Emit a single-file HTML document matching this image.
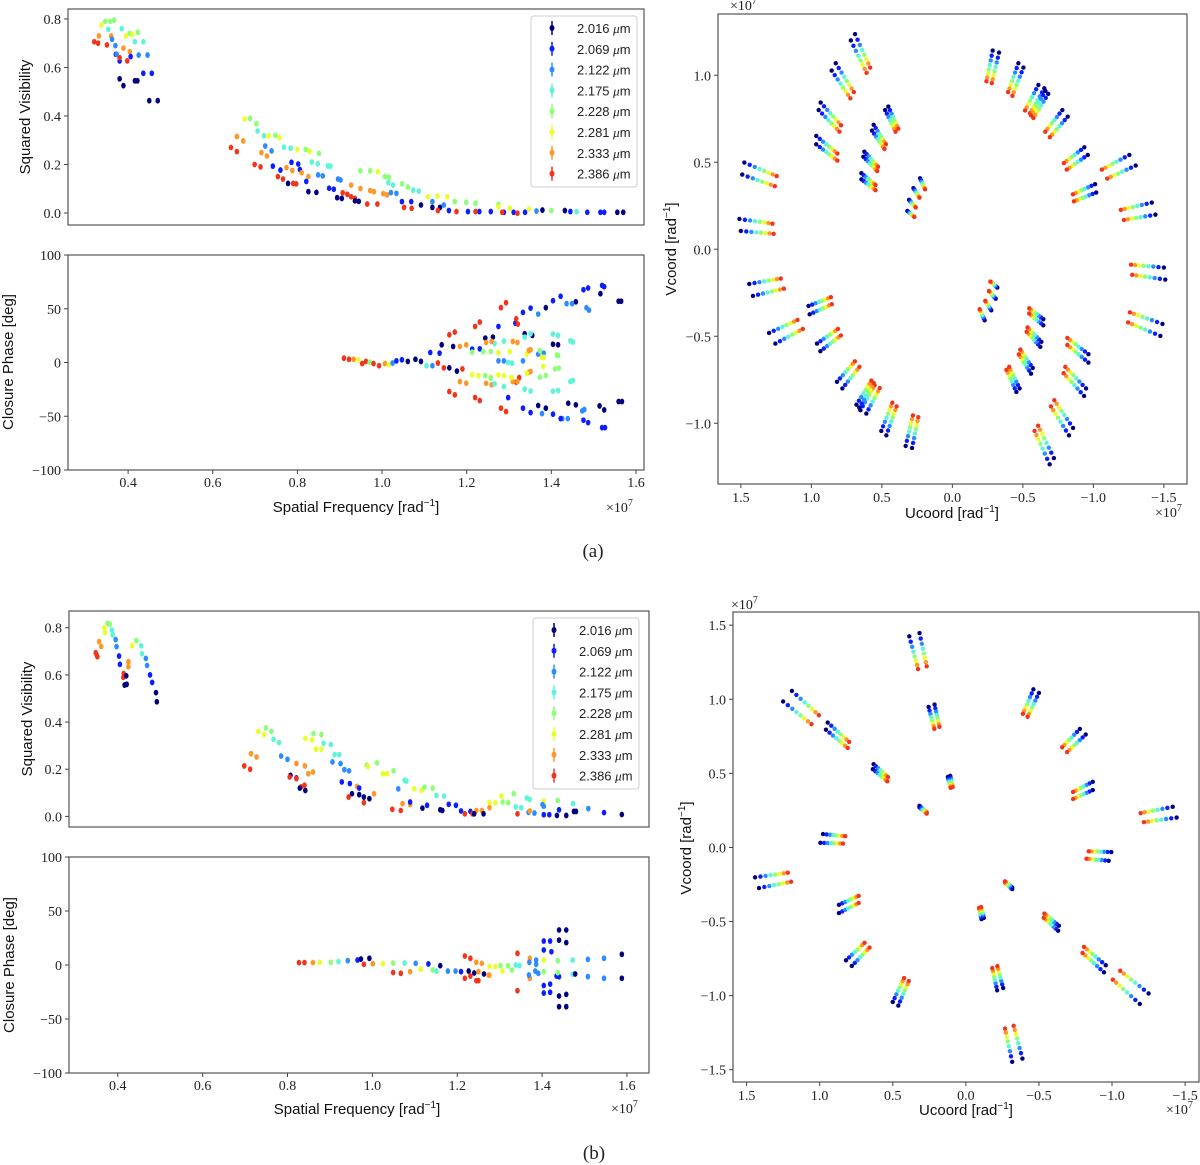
<!DOCTYPE html>
<html><head><meta charset="utf-8"><style>
html,body{margin:0;padding:0;background:#fff;}
svg{display:block;}
.tk{font-family:"Liberation Serif",serif;font-size:14px;fill:#222;}
.lb{font-family:"Liberation Sans",sans-serif;font-size:15px;fill:#111;}
.lg{font-family:"Liberation Sans",sans-serif;font-size:13px;fill:#222;}
</style></head><body>
<svg id="fig" width="1200" height="1165" viewBox="0 0 1200 1165" xmlns="http://www.w3.org/2000/svg"></svg>
<script>
const LAMBDAS = [2.016,2.069,2.122,2.175,2.228,2.281,2.333,2.386];
const LAMBDA_LABELS = ["2.016","2.069","2.122","2.175","2.228","2.281","2.333","2.386"];
const COLORS = ["#00007f","#0a1eff","#2a8cff","#5cf5d8","#8cff78","#eaff2a","#ff9628","#f4341a"];
const SF_TICKS = [0.4,0.6,0.8,1.0,1.2,1.4,1.6];
const VIS_TICKS = [0.0,0.2,0.4,0.6,0.8];
const CP_TICKS = [-100,-50,0,50,100];
const UV_TICKS_A = [1.5,1.0,0.5,0.0,-0.5,-1.0];
const UV_TICKS_B = [1.5,1.0,0.5,0.0,-0.5,-1.0,-1.5];
// visibility (a): [freq, V2, wavelength index]
const visA = [
[0.32,0.706,7],[0.329,0.70,7],[0.331,0.73,6],[0.337,0.775,5],[0.346,0.79,4],[0.353,0.757,3],[0.35,0.693,7],[0.36,0.73,6],
[0.362,0.716,2],[0.37,0.69,2],[0.371,0.654,1],[0.373,0.654,2],[0.38,0.553,0],[0.389,0.525,0],[0.38,0.627,1],[0.38,0.64,7],[0.398,0.627,7],
[0.389,0.68,6],[0.404,0.665,6],[0.358,0.79,4],[0.367,0.795,4],[0.385,0.76,3],[0.395,0.73,5],[0.404,0.74,4],[0.423,0.745,4],[0.41,0.737,5],
[0.416,0.706,3],[0.436,0.706,3],[0.425,0.651,2],[0.446,0.651,2],[0.406,0.645,1],[0.436,0.576,1],[0.456,0.576,1],[0.416,0.545,0],[0.422,0.545,0],
[0.45,0.463,0],[0.47,0.463,0],
[0.643,0.27,7],[0.657,0.253,7],[0.657,0.315,6],[0.672,0.297,6],[0.675,0.388,5],[0.688,0.39,4],[0.703,0.368,4],[0.706,0.338,3],[0.721,0.318,3],
[0.732,0.318,5],[0.748,0.32,4],[0.758,0.31,5],[0.724,0.276,2],[0.739,0.256,2],[0.715,0.249,6],[0.728,0.235,6],[0.699,0.2,7],[0.713,0.19,7],
[0.742,0.193,1],[0.76,0.177,1],[0.754,0.15,7],[0.766,0.14,7],[0.778,0.122,0],[0.784,0.267,3],[0.768,0.271,3],[0.8,0.262,5],[0.82,0.262,4],[0.829,0.255,5],
[0.774,0.187,6],[0.788,0.175,6],[0.786,0.209,1],[0.802,0.202,1],[0.79,0.122,7],[0.797,0.12,7],[0.806,0.179,1],[0.821,0.13,1],[0.834,0.21,3],[0.848,0.203,3],
[0.851,0.246,4],[0.81,0.166,6],[0.826,0.15,6],[0.826,0.088,0],[0.845,0.085,0],[0.849,0.157,2],[0.86,0.153,2],[0.872,0.194,3],[0.878,0.193,3],
[0.875,0.102,1],[0.886,0.098,1],[0.896,0.14,2],[0.902,0.136,2],[0.894,0.063,0],[0.905,0.06,0],[0.907,0.083,7],[0.918,0.077,7],[0.927,0.067,7],[0.936,0.06,7],
[0.936,0.05,0],[0.945,0.048,0],[0.927,0.115,6],[0.949,0.101,6],[0.972,0.092,6],[0.981,0.088,6],[0.965,0.037,7],[0.989,0.037,7],
[0.949,0.174,4],[0.972,0.174,4],[0.99,0.17,5],[1.007,0.15,4],[1.016,0.147,4],[1.003,0.08,6],[1.012,0.075,6],[1.021,0.084,2],[1.034,0.081,2],
[1.015,0.125,3],[1.026,0.115,3],[1.047,0.12,4],[1.061,0.107,4],[1.047,0.047,1],[1.069,0.047,1],[1.052,0.023,7],[1.07,0.019,7],[1.074,0.094,3],[1.087,0.09,3],
[1.109,0.067,5],[1.131,0.07,5],[1.154,0.067,5],[1.092,0.033,0],[1.119,0.023,0],[1.137,0.023,0],[1.119,0.047,2],[1.146,0.033,2],
[1.172,0.047,4],[1.199,0.044,4],[1.221,0.04,4],[1.275,0.036,4],[1.158,0.01,1],[1.203,0.006,1],[1.23,0.006,1],[1.257,0.006,1],[1.288,0.003,1],[1.311,0.003,1],[1.338,0.003,1],
[1.132,0.01,7],[1.176,0.006,7],[1.221,0.006,7],[1.284,0.003,7],[1.32,-0.001,7],[1.275,0.026,5],[1.302,0.019,5],[1.347,0.016,5],
[1.365,0.008,2],[1.379,0.012,0],[1.432,0.01,0],[1.445,0.006,1],[1.485,0.003,1],[1.516,0.003,1],[1.525,0.003,1],[1.556,0.003,0],[1.57,0.003,0],[1.4,0.01,4],[1.46,0.005,3]
];
// closure phase (a): [freq, deg, wavelength index]
const cpA = [
[0.91,4,7],[0.922,3,7],[0.933,3,6],[0.944,2.5,5],[0.953,-1,7],[0.962,1,7],[0.971,0.3,4],[0.98,-1,7],[0.993,-3,7],[1.007,-1,6],[1.016,-2,5],[1.025,-0.5,2],
[1.034,1.5,1],[1.047,2.5,1],[1.061,1,0],[1.079,3,0],[1.092,1,0],[1.105,-3,3],[1.119,-3,2],[1.132,-0.5,7],[1.146,-5,7],[1.159,-5,0],[1.177,-8,0],[1.19,-6,7],
[1.114,9.3,1],[1.136,8.7,1],[1.213,12.4,1],[1.231,12.7,1],[1.275,33.5,1],[1.315,36.6,1],[1.333,46.6,1],[1.351,50.6,1],[1.404,57.5,1],[1.422,61.6,1],[1.476,67.7,1],[1.487,69.3,1],[1.52,71.7,1],[1.525,70.5,1],
[1.141,16.5,0],[1.168,14.9,0],[1.244,22.7,0],[1.262,23.6,0],[1.337,26.7,0],[1.355,25.2,0],[1.387,51,0],[1.404,17,0],[1.416,16.5,0],[1.458,56.5,0],[1.516,64,0],[1.559,57,0],[1.565,57,0],
[1.369,45,2],[1.436,54.7,2],[1.449,54.7,2],[1.483,50.9,2],[1.489,48.7,2],[1.275,1.5,2],[1.288,1.5,2],[1.333,1.5,2],[1.369,7.8,2],[1.382,8.7,2],
[1.266,17.7,3],[1.288,19.9,3],[1.337,23.6,3],[1.351,26.7,3],[1.404,26.4,3],[1.416,25.2,3],[1.445,20.2,3],[1.451,19,3],[1.298,0,3],[1.307,-0.6,3],
[1.213,9.6,4],[1.239,10.2,4],[1.257,10.2,4],[1.347,10.9,4],[1.373,10.9,4],[1.413,7.1,4],[1.416,6.5,4],
[1.275,9.3,5],[1.302,10.2,5],[1.342,8.1,5],[1.378,4.7,5],[1.382,4.7,5],
[1.184,14.9,6],[1.199,16.5,6],[1.246,18.6,6],[1.259,19.6,6],[1.309,19.6,6],[1.32,18.6,6],[1.347,11.2,6],[1.351,11.8,6],
[1.159,25.8,7],[1.172,28.3,7],[1.22,33.5,7],[1.231,37.6,7],[1.281,51,7],[1.293,55.6,7],[1.317,40.7,7],[1.321,35.7,7],
[1.159,-27,7],[1.172,-30.1,7],[1.22,-32.6,7],[1.231,-35.4,7],[1.281,-42.5,7],[1.293,-45.6,7],[1.317,-18.3,7],[1.324,-14,7],
[1.184,-17.7,6],[1.199,-19.3,6],[1.246,-19.3,6],[1.259,-20.8,6],[1.309,-17.7,6],[1.32,-17.7,6],[1.347,-9,6],[1.351,-8.4,6],
[1.213,-11.5,5],[1.228,-12.4,5],[1.257,-13.7,5],[1.275,-11.5,5],[1.288,-12.1,5],[1.306,-14,5],[1.342,-9.9,5],[1.381,-3.7,5],
[1.244,-12.4,4],[1.257,-14.6,4],[1.373,-13.7,4],[1.387,-12.1,4],[1.409,-5.9,4],[1.418,-5.3,4],
[1.266,-19.9,3],[1.288,-22.4,3],[1.337,-24.8,3],[1.351,-26.7,3],[1.404,-26.7,3],[1.416,-26.1,3],[1.445,-17.7,3],[1.451,-16.8,3],
[1.378,-47.5,2],[1.426,-52.2,2],[1.439,-52.2,2],[1.473,-45,2],[1.478,-43.8,2],
[1.298,-32.6,1],[1.333,-42.5,1],[1.351,-46.6,1],[1.404,-48.1,1],[1.422,-52.2,1],[1.476,-53.7,1],[1.487,-55.9,1],[1.52,-60.6,1],[1.527,-60.6,1],
[1.369,-40,0],[1.387,-42.5,0],[1.44,-37.9,0],[1.458,-39.4,0],[1.514,-40.4,0],[1.525,-44.1,0],[1.559,-36.3,0],[1.567,-36.3,0]
];
// visibility (b)
const visB = [
[0.348,0.694,7],[0.352,0.677,7],[0.35,0.685,7],[0.356,0.741,6],[0.361,0.72,6],[0.368,0.80,5],[0.37,0.78,5],[0.376,0.819,4],[0.381,0.815,4],
[0.386,0.79,3],[0.388,0.77,3],[0.395,0.75,2],[0.397,0.72,2],[0.403,0.68,1],[0.405,0.645,1],[0.414,0.606,7],[0.413,0.59,7],[0.425,0.656,6],[0.425,0.635,6],
[0.416,0.557,0],[0.421,0.56,0],[0.42,0.596,0],[0.434,0.724,5],[0.444,0.745,4],[0.455,0.724,3],[0.457,0.69,3],[0.466,0.67,2],[0.469,0.64,2],
[0.476,0.6,1],[0.481,0.568,1],[0.49,0.525,0],[0.492,0.486,0],
[0.698,0.214,7],[0.712,0.2,7],[0.714,0.266,6],[0.727,0.252,6],[0.731,0.361,5],[0.745,0.347,5],[0.749,0.375,4],[0.762,0.361,4],[0.767,0.327,3],[0.78,0.313,3],
[0.785,0.256,2],[0.8,0.242,2],[0.807,0.174,0],[0.821,0.163,1],[0.805,0.167,7],[0.821,0.16,7],[0.832,0.125,7],[0.829,0.12,0],[0.842,0.11,0],[0.84,0.132,7],
[0.821,0.224,6],[0.841,0.214,6],[0.849,0.181,6],[0.86,0.188,6],[0.842,0.331,5],[0.858,0.324,5],[0.861,0.351,4],[0.88,0.347,4],[0.867,0.285,5],[0.88,0.285,5],
[0.885,0.31,3],[0.902,0.305,3],[0.906,0.231,2],[0.925,0.224,2],[0.911,0.262,3],[0.922,0.262,3],[0.928,0.146,1],[0.947,0.139,1],[0.952,0.096,0],
[0.934,0.198,2],[0.945,0.193,2],[0.944,0.082,7],[0.98,0.058,7],[0.964,0.127,6],[1.004,0.096,6],[0.969,0.092,0],[0.98,0.082,0],[0.993,0.075,0],[0.969,0.12,1],
[0.987,0.217,4],[1.011,0.227,4],[0.99,0.212,5],[1.025,0.181,5],[1.035,0.181,5],[1.05,0.193,4],[1.061,0.117,2],[1.076,0.153,3],[1.08,0.15,3],
[1.047,0.03,7],[1.067,0.025,7],[1.071,0.054,6],[1.089,0.05,6],[1.089,0.061,1],[1.118,0.035,0],[1.129,0.047,1],
[1.098,0.117,5],[1.116,0.11,5],[1.123,0.124,4],[1.142,0.12,4],[1.151,0.089,3],[1.169,0.086,3],[1.16,0.028,0],[1.165,0.025,0],
[1.18,0.051,1],[1.197,0.047,1],[1.209,0.023,1],[1.231,0.021,1],[1.218,0.011,7],[1.236,0.011,7],[1.245,0.025,6],[1.258,0.025,6],[1.24,0.011,0],[1.262,0.011,0],
[1.276,0.037,6],[1.276,0.06,5],[1.29,0.057,5],[1.304,0.086,5],[1.307,0.061,4],[1.32,0.058,4],[1.333,0.096,4],[1.338,0.04,3],[1.351,0.037,3],[1.342,0.011,7],
[1.368,0.017,2],[1.382,0.014,2],[1.371,0.023,6],[1.364,0.078,3],[1.371,0.072,3],[1.404,0.064,5],[1.401,0.05,2],[1.404,0.043,2],
[1.404,0.007,1],[1.417,0.007,1],[1.435,0.004,0],[1.457,0.004,0],[1.437,0.068,4],[1.44,0.028,1],[1.473,0.054,3],[1.475,0.021,0],[1.48,0.021,0],
[1.509,0.033,2],[1.546,0.016,1],[1.588,0.008,0]
];
// closure phase (b)
const cpB = [
[0.827,2.2,7],[0.84,2.2,7],[0.86,2.2,6],[0.876,2.5,5],[0.902,2.5,4],[0.92,3.1,3],[0.942,4,2],[0.965,4.6,1],[0.973,5.5,0],[0.993,6.2,0],
[0.98,0.6,7],[1.001,1.2,6],[1.025,1.2,5],[1.049,1.8,4],[1.076,1.8,3],[1.102,1.5,2],[1.132,1,1],[1.16,-0.6,0],
[1.049,-7,7],[1.067,-7.7,7],[1.089,-6.2,6],[1.114,-4,5],[1.142,-4.6,4],[1.151,-5.6,3],[1.178,-5.6,2],[1.196,-5.6,2],[1.209,-6.2,1],[1.227,-5.6,0],[1.24,-7.4,0],[1.263,-8.3,0],
[1.218,8.3,7],[1.231,6.2,7],[1.218,-12.3,7],[1.231,-10.2,7],[1.245,-14.5,7],[1.25,-14.5,7],
[1.245,2.5,6],[1.258,1.5,6],[1.274,-9.3,6],[1.276,-9.3,6],[1.25,-6.2,6],
[1.276,-1.5,5],[1.29,-1.5,5],[1.307,-5.6,5],[1.302,-0.6,4],[1.32,-0.6,4],[1.329,-4.6,4],[1.338,0,3],[1.347,-0.6,3],
[1.342,10.8,7],[1.342,-23.8,7],[1.371,6.2,6],[1.371,-12.3,6],[1.37,2.5,2],[1.386,4.6,2],[1.386,0.6,2],[1.369,-9.3,2],[1.384,-5.6,2],[1.391,-7.7,2],
[1.404,22.2,1],[1.419,22.2,1],[1.404,13.9,1],[1.422,12.3,1],[1.404,-19,1],[1.419,-17.7,1],[1.404,-26,1],[1.419,-25.3,1],
[1.44,32.4,0],[1.457,32.4,0],[1.44,23,0],[1.457,20.7,0],[1.44,-28.7,0],[1.457,-27.2,0],[1.44,-38.6,0],[1.457,-38.6,0],
[1.434,-10.2,1],[1.44,-10.8,1],[1.404,-6.2,4],[1.437,-7.1,4],[1.437,4,4],[1.404,4.6,5],[1.472,4.6,3],[1.472,-8.6,3],[1.478,-8.3,0],
[1.508,5.2,2],[1.508,-10.8,2],[1.546,6.2,2],[1.546,-12.3,2],[1.588,9.9,0],[1.588,-12.3,0]
];
// uv tracks: [u, v, du, dv] at 2.016 um (1e7 rad^-1); mirrored to (-u,-v)
const uvA = [
[0.69,1.236,0.03,-0.036],[0.827,1.069,0.029,-0.042],[0.934,0.843,0.014,-0.043],[0.965,0.651,0,-0.048],
[1.475,0.498,0.015,-0.069],[1.51,0.174,-0.01,-0.069],[0.454,0.82,0.023,-0.02],[0.558,0.715,0.012,-0.033],
[0.624,0.561,0.007,-0.029],[0.645,0.437,0,-0.035],[0.229,0.408,0.047,-0.057],[0.307,0.284,0.012,-0.064],
[-0.286,1.142,-0.045,-0.012],[-0.468,1.069,-0.036,-0.025],[-0.61,0.944,-0.042,-0.019],[-0.66,0.91,-0.02,-0.017],
[-0.78,0.80,-0.038,-0.038],[-0.936,0.586,-0.024,-0.044],[-1.255,0.542,-0.045,-0.061],[-1.012,0.374,-0.008,-0.048],
[-1.414,0.268,-0.026,-0.069]
];
const uvB = [
[0.317,1.447,0.07,-0.022],[1.19,1.056,0.06,-0.071],[0.945,0.843,0.012,-0.048],[0.631,0.562,0.005,-0.034],
[0.317,0.281,0,-0.01],[0.214,0.964,0.041,-0.016],[0.107,0.483,0.016,-0.007],[0.977,0.09,0.018,-0.059],
[-0.462,1.067,-0.038,-0.024],[-0.78,0.80,-0.04,-0.038],[-0.868,0.443,0,-0.056],[-1.415,0.274,-0.027,-0.072]
];

const NS="http://www.w3.org/2000/svg";
const svg=document.getElementById('fig');
function el(tag,attrs,parent){const e=document.createElementNS(NS,tag);for(const k in attrs)e.setAttribute(k,attrs[k]);(parent||svg).appendChild(e);return e;}
function fmt(v,d){let s=v.toFixed(d);if(v<0)s="\u2212"+s.slice(1);if(s==="\u22120.0")s="0.0";return s;}
function txt(s,x,y,cls,anchor,parent,rot){const t=el('text',{x:x,y:y,class:cls,'text-anchor':anchor||'middle'},parent);if(rot)t.setAttribute('transform','rotate(-90 '+x+' '+y+')');t.textContent=s;return t;}
function sup(t,base,supS){t.textContent=base;const s=document.createElementNS(NS,'tspan');s.setAttribute('dy','-6');s.setAttribute('font-size','10');s.textContent=supS;t.appendChild(s);const s2=document.createElementNS(NS,'tspan');s2.setAttribute('dy','6');s2.textContent=']';t.appendChild(s2);}

function axes(name,box,xr,yr){
  const g=el('g',{});
  
  
  const sx=v=>box.x0+(v-xr[0])/(xr[1]-xr[0])*(box.x1-box.x0);
  const sy=v=>box.y1-(v-yr[0])/(yr[1]-yr[0])*(box.y1-box.y0);
  const fr=el('rect',{x:box.x0,y:box.y0,width:box.x1-box.x0,height:box.y1-box.y0,fill:'none',stroke:'#555','stroke-width':1.2},g);
  
  
  return {g,sx,sy,box};
}
function xticks(A,ticks,dec,name,dy){
  const g=el('g',{},A.g);
  
  
  ticks.forEach(t=>{const x=A.sx(t);el('line',{x1:x,x2:x,y1:A.box.y1,y2:A.box.y1+4,stroke:'#444'},g);txt(fmt(t,dec),x,A.box.y1+(dy||17),'tk','middle',g);});
}
function yticks(A,ticks,dec,name){
  const g=el('g',{},A.g);
  
  
  ticks.forEach(t=>{const y=A.sy(t);el('line',{x1:A.box.x0-4,x2:A.box.x0,y1:y,y2:y,stroke:'#444'},g);txt(fmt(t,dec),A.box.x0-7,y+5,'tk','end',g);});
}
function points(A,data,name){
  const g=el('g',{},A.g);
  
  
  data.forEach(d=>{
    const p=el('ellipse',{cx:A.sx(d[0]),cy:A.sy(d[1]),rx:2.3,ry:2.9,fill:COLORS[d[2]]},g);
    
    
  });
}
function uvPoints(A,groups,name){
  const g=el('g',{},A.g);
  
  
  groups.forEach(gr=>{
    [1,-1].forEach(sgn=>{
      [[gr[0],gr[1]],[gr[0]+gr[2],gr[1]+gr[3]]].forEach(b=>{
        LAMBDAS.forEach((lam,i)=>{
          const f=LAMBDAS[0]/lam;
          const c=el('circle',{cx:A.sx(sgn*b[0]*f),cy:A.sy(sgn*b[1]*f),r:2.2,fill:COLORS[i]},g);
          
          
        });
      });
    });
  });
}
function legend(x,y,name){
  const g=el('g',{});
  
  
  el('rect',{x:x,y:y,width:106,height:171,rx:3,fill:'#fff',stroke:'#ccc'},g);
  LAMBDA_LABELS.forEach((l,i)=>{
    const cy=y+12+i*20.8;
    const e=el('g',{},g);
    
    
    el('line',{x1:x+21,x2:x+21,y1:cy-7,y2:cy+7,stroke:COLORS[i],'stroke-width':1.5},e);
    el('ellipse',{cx:x+21,cy:cy,rx:2.5,ry:3,fill:COLORS[i]},e);
    const t=txt(l+' ',x+46,cy+5,'lg','start',e);
    const ts=document.createElementNS(NS,'tspan');ts.setAttribute('font-style','italic');ts.setAttribute('font-family','Liberation Serif, serif');ts.textContent='\u03bc';t.appendChild(ts);
    t.appendChild(document.createTextNode('m'));
  });
}
function sfLabel(x,y,name){const t=txt('',x,y,'lb','middle');sup(t,'Spatial Frequency [rad','\u22121');}
function expLabel(x,y,name){const t=el('text',{x:x,y:y,class:'tk','text-anchor':'start'});t.textContent='\u00d710';const s=document.createElementNS(NS,'tspan');s.setAttribute('dy','-6');s.setAttribute('font-size','10');s.textContent='7';t.appendChild(s);}
function coordLabel(base,x,y,rot,name){const t=txt('',x,y,'lb','middle',null,rot);sup(t,base+' [rad','\u22121');}

// ---------- Panel (a) ----------
const visAx=axes('visibility-plot-a',{x0:68,x1:644,y0:9,y1:225},[0.258,1.619],[-0.0495,0.841]);
yticks(visAx,VIS_TICKS,1,'vis-a-y-ticks');
points(visAx,visA,'vis-a-points');
legend(531,16,'legend-a');
txt('Squared Visibility',30,117,'lb','middle',null,true);
const cpAx=axes('closure-phase-plot-a',{x0:68,x1:644,y0:255,y1:470},[0.258,1.619],[-100,100]);
yticks(cpAx,CP_TICKS,0,'cp-a-y-ticks');
xticks(cpAx,SF_TICKS,1,'cp-a-x-ticks');
points(cpAx,cpA,'cp-a-points');
txt('Closure Phase [deg]',13,362,'lb','middle',null,true);
sfLabel(356,512,'sf-a-x-title');
expLabel(606,512,'sf-a-exponent');

const uvAx=axes('uv-plot-a',{x0:718,x1:1187,y0:14,y1:484},[1.662,-1.664],[-1.349,1.352]);
xticks(uvAx,UV_TICKS_A.concat([-1.5]),1,'uv-a-x-ticks',18);
yticks(uvAx,[-1.0,-0.5,0.0,0.5,1.0],1,'uv-a-y-ticks');
uvPoints(uvAx,uvA,'uv-a-points');
expLabel(730,10,'uv-a-exponent');
expLabel(1155,517,'uv-a-x-exponent');
coordLabel('Ucoord',952,518,false,'uv-a-x-title');
coordLabel('Vcoord',676,249,true,'uv-a-y-title');
{const t=txt('(a)',593,557,'tk','middle');t.setAttribute('style','font-size:19px');}

// ---------- Panel (b) ----------
const visBx=axes('visibility-plot-b',{x0:69,x1:649,y0:611,y1:827},[0.285,1.652],[-0.045,0.871]);
yticks(visBx,VIS_TICKS,1,'vis-b-y-ticks');
points(visBx,visB,'vis-b-points');
legend(533,618,'legend-b');
txt('Squared Visibility',32,719,'lb','middle',null,true);
const cpBx=axes('closure-phase-plot-b',{x0:69,x1:649,y0:857,y1:1073},[0.285,1.652],[-100,100]);
yticks(cpBx,CP_TICKS,0,'cp-b-y-ticks');
xticks(cpBx,SF_TICKS,1,'cp-b-x-ticks');
points(cpBx,cpB,'cp-b-points');
txt('Closure Phase [deg]',14,965,'lb','middle',null,true);
sfLabel(357,1114,'sf-b-x-title');
expLabel(611,1113,'sf-b-exponent');

const uvBx=axes('uv-plot-b',{x0:733,x1:1199,y0:612,y1:1082},[1.593,-1.595],[-1.583,1.589]);
xticks(uvBx,UV_TICKS_B,1,'uv-b-x-ticks',18);
yticks(uvBx,UV_TICKS_B,1,'uv-b-y-ticks');
uvPoints(uvBx,uvB,'uv-b-points');
expLabel(731,609,'uv-b-exponent');
expLabel(1166,1114,'uv-b-x-exponent');
coordLabel('Ucoord',966,1115,false,'uv-b-x-title');
coordLabel('Vcoord',691,848,true,'uv-b-y-title');
{const t=txt('(b)',594,1159,'tk','middle');t.setAttribute('style','font-size:19px');}
</script>
</body></html>
